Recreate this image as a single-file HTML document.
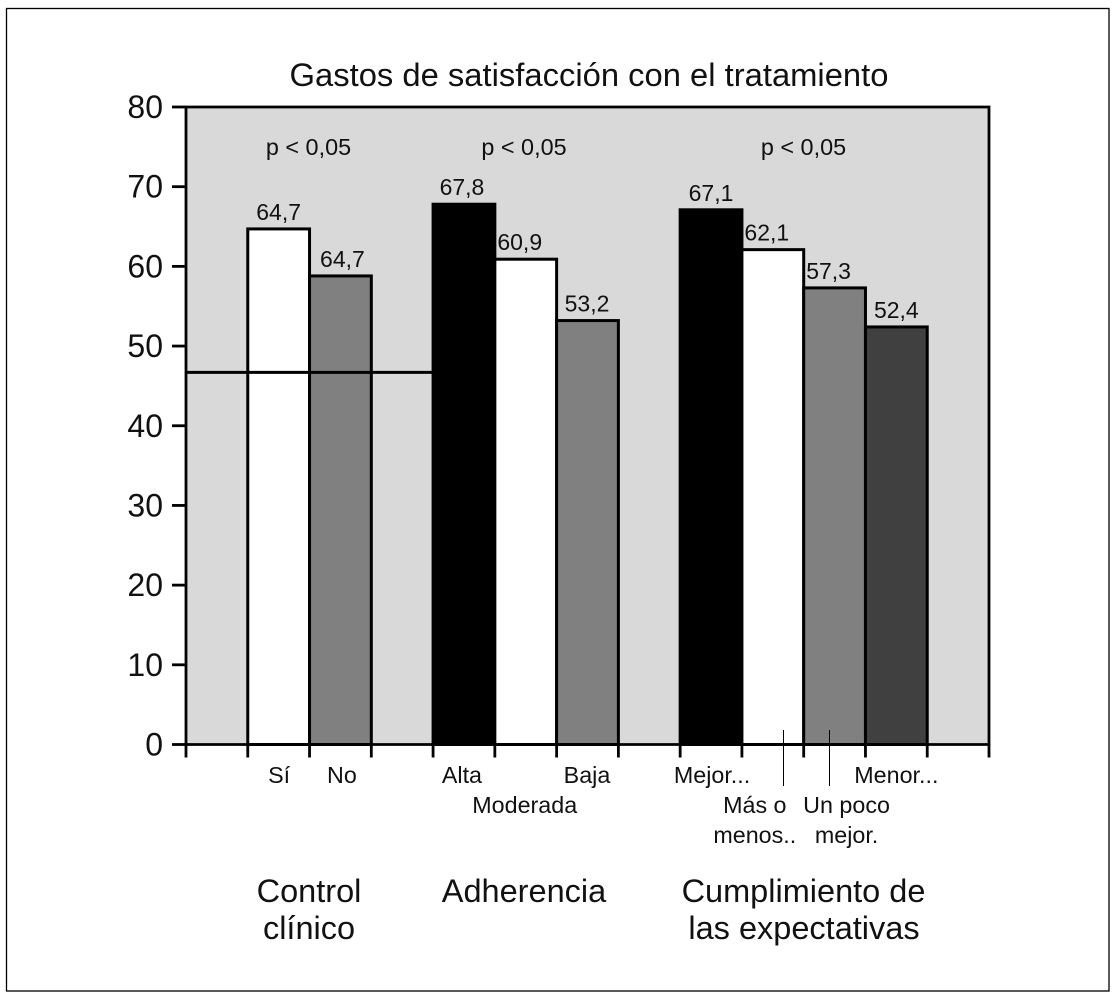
<!DOCTYPE html>
<html lang="es">
<head>
<meta charset="utf-8">
<title>Gastos de satisfacción con el tratamiento</title>
<style>
html,body{margin:0;padding:0;background:#fff;width:1115px;height:996px;overflow:hidden}
svg{display:block;font-family:"Liberation Sans",Arial,sans-serif;fill:#111}
text{fill:#111}
</style>
</head>
<body>
<svg id="chart" xmlns="http://www.w3.org/2000/svg" width="1115" height="996" viewBox="0 0 1115 996">
  <rect x="6.5" y="8.5" width="1102.5" height="982.5" fill="#fff" stroke="#000" stroke-width="1.3"/>
  <text x="589" y="86" font-size="32.75" text-anchor="middle">Gastos de satisfacción con el tratamiento</text>
  <rect x="186" y="107" width="803" height="637.5" fill="#d9d9d9"/>
  <g id="bars"></g>
  <g id="refline"></g>
  <g id="axes"></g>
  <g id="labels"></g>
  <line x1="783.5" y1="730" x2="783.5" y2="786" stroke="#000" stroke-width="1"/>
  <line x1="829.5" y1="730" x2="829.5" y2="786" stroke="#000" stroke-width="1"/>
  <text x="309" y="902" font-size="32.5" text-anchor="middle">Control</text>
  <text x="309" y="939" font-size="32.5" text-anchor="middle">clínico</text>
  <text x="524" y="902" font-size="32.5" text-anchor="middle">Adherencia</text>
  <text x="803.5" y="902" font-size="32.5" text-anchor="middle">Cumplimiento de</text>
  <text x="804" y="939" font-size="32.5" text-anchor="middle">las expectativas</text>
  <text x="308.5" y="155" font-size="23.4" text-anchor="middle">p &lt; 0,05</text>
  <text x="524" y="155" font-size="23.4" text-anchor="middle">p &lt; 0,05</text>
  <text x="803.5" y="155" font-size="23.4" text-anchor="middle">p &lt; 0,05</text>
</svg>
<script>
// Chart data
const barSlots = [1, 2, 4, 5, 6, 8, 9, 10, 11];
const barValues = [64.7, 58.8, 67.8, 60.9, 53.2, 67.1, 62.1, 57.3, 52.4];
const printedValues = ["64,7", "64,7", "67,8", "60,9", "53,2", "67,1", "62,1", "57,3", "52,4"];
const barTones = ["white", "gray", "black", "white", "gray", "black", "white", "gray", "dark"];
const yTicks = [0, 10, 20, 30, 40, 50, 60, 70, 80];
const referenceValue = 46.7;
const slotCount = 13;
const categoryNames = ["Sí", "No", "Alta", "Moderada", "Baja", "Mejor...", "Menor..."];
const categorySlots = [1, 2, 4, 5, 6, 8, 11];
const categoryRows = [0, 0, 0, 1, 0, 0, 0];
const wrappedNames = ["Más o", "menos..", "Un poco", "mejor."];
const wrappedSlots = [9, 9, 10, 10];
const wrappedRows = [1, 2, 1, 2];

// Layout nudges (separate from data), in pixels from slot centre
const valueLabelNudge = [0, 2, -2, -6, -0.5, 0, -6, -6, 0];
const categoryNudge = [0.5, 1.5, -2, -1, -0.5, 1, 0];
const wrappedNudge = [-18, -18, 12, 12];

// Axis functions
const plotLeft = 186, plotRight = 989, plotTop = 107, plotBottom = 744.5;
const toneFill = {white: "#fff", gray: "#808080", black: "#000", dark: "#404040"};
function yScale(v) { return plotBottom - (v / 80) * (plotBottom - plotTop); }
function xSlot(i) { return plotLeft + i * (plotRight - plotLeft) / slotCount; }
function xCenter(i) { return (xSlot(i) + xSlot(i + 1)) / 2; }
function rowY(r) { return 783 + r * 30; }

const NS = "http://www.w3.org/2000/svg";
function make(tag, parent) {
  const el = document.createElementNS(NS, tag);
  parent.appendChild(el);
  return el;
}
function setAll(el, props) {
  for (const k in props) el.setAttribute(k, props[k]);
}

const gBars = document.getElementById("bars");
const gRef = document.getElementById("refline");
const gAxes = document.getElementById("axes");
const gLabels = document.getElementById("labels");

barValues.forEach(function (v, i) {
  const s = barSlots[i];
  const bar = make("rect", gBars);
  
  
  setAll(bar, {x: xSlot(s), y: yScale(v), width: xSlot(s + 1) - xSlot(s), height: plotBottom - yScale(v),
    fill: toneFill[barTones[i]], stroke: "#000", "stroke-width": 3});
  const label = make("text", gLabels);
  
  
  setAll(label, {x: xCenter(s) + valueLabelNudge[i], y: yScale(v) - 9, "font-size": 23, "text-anchor": "middle"});
  label.textContent = printedValues[i];
});

const ref = make("line", gRef);


setAll(ref, {x1: plotLeft, x2: xSlot(4), y1: yScale(referenceValue), y2: yScale(referenceValue), stroke: "#000", "stroke-width": 3});

const frame = make("path", gAxes);


setAll(frame, {d: "M" + plotLeft + " " + plotBottom + "V" + plotTop + "H" + plotRight + "V" + plotBottom + "H" + plotLeft,
  fill: "none", stroke: "#000", "stroke-width": 2.8});

yTicks.forEach(function (t) {
  const tick = make("line", gAxes);
  
  
  setAll(tick, {x1: 172, x2: plotLeft, y1: yScale(t), y2: yScale(t), stroke: "#000", "stroke-width": 2.8});
  const label = make("text", gLabels);
  
  
  setAll(label, {x: 163, y: yScale(t) + 11, "font-size": 32, "text-anchor": "end"});
  label.textContent = t;
});

for (let i = 0; i <= slotCount; i++) {
  const tick = make("line", gAxes);
  
  
  setAll(tick, {x1: xSlot(i), x2: xSlot(i), y1: plotBottom, y2: 757.5, stroke: "#000", "stroke-width": 2.8});
}

categoryNames.forEach(function (name, i) {
  const label = make("text", gLabels);
  
  
  setAll(label, {x: xCenter(categorySlots[i]) + categoryNudge[i], y: rowY(categoryRows[i]), "font-size": 23.3, "text-anchor": "middle"});
  label.textContent = name;
});

wrappedNames.forEach(function (name, i) {
  const label = make("text", gLabels);
  
  
  setAll(label, {x: xCenter(wrappedSlots[i]) + wrappedNudge[i], y: rowY(wrappedRows[i]), "font-size": 23.3, "text-anchor": "middle"});
  label.textContent = name;
});
</script>
</body>
</html>
